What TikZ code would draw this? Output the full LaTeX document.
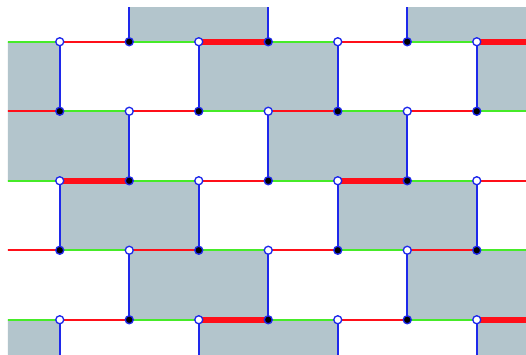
\documentclass[tikz,border=0pt]{standalone}
\definecolor{tuile}{RGB}{179,197,204}
\definecolor{rouge}{RGB}{255,15,25}
\definecolor{vert}{RGB}{70,235,40}
\definecolor{bleu}{RGB}{30,40,235}
\tikzset{
  cote/.style={bleu,line width=0.75pt},
  arete/.style={line width=0.65pt},
  epais/.style={rouge,line width=2.3pt},
  sommet/.style={circle,draw=bleu,line width=0.55pt,inner sep=0pt,minimum size=1.15mm}
}
\begin{document}
\begin{tikzpicture}[y=-1cm]
% Pavage en briques : tuiles, aretes et sommets
\fill[white] (-0.8597,-0.6007) rectangle (6.7083,4.4927);
\useasboundingbox (-0.8597,-0.6007) rectangle (6.7083,4.4927);
\clip (-0.748,-0.489) rectangle (6.71,4.5);
\foreach \i in {-7,...,12} \foreach \j in {-1,...,5} \coordinate (p-\i-\j) at (\i,\j);
\foreach \m in {0,...,5} \foreach \n in {-2,...,1} {
  \pgfmathtruncatemacro\s{\m+1+4*\n}
  \pgfmathtruncatemacro\t{\s+2}
  \pgfmathtruncatemacro\h{\m-1}
  \fill[tuile] (p-\s-\h) rectangle (p-\t-\m);
}
\foreach \m in {0,...,5} \foreach \n in {-2,...,1} {
  \pgfmathtruncatemacro\s{\m+1+4*\n}
  \pgfmathtruncatemacro\t{\s+2}
  \pgfmathtruncatemacro\h{\m-1}
  \draw[cote] (p-\s-\h) -- (p-\s-\m) (p-\t-\h) -- (p-\t-\m);
}
\foreach \j in {0,...,4} \foreach \i in {-1,...,6} {
  \pgfmathtruncatemacro\k{\i+1}
  \pgfmathtruncatemacro\odd{mod(\i+\j+2,2)}
  \ifnum\odd=0 \def\teinte{rouge}\else\def\teinte{vert}\fi
  \draw[arete,\teinte] (p-\i-\j) -- (p-\k-\j);
}
\foreach \a/\b/\j in {2/3/0,6/7/0,0/1/2,4/5/2,2/3/4,6/7/4}
  \draw[epais] (p-\a-\j) -- (p-\b-\j);
\foreach \i in {0,...,6} \foreach \j in {0,...,4} {
  \pgfmathtruncatemacro\odd{mod(\i+\j,2)}
  \ifnum\odd=0 \def\remp{white}\else\def\remp{black}\fi
  \node[sommet,fill=\remp] (s-\i-\j) at (p-\i-\j) {};
}
\end{tikzpicture}
\end{document}
